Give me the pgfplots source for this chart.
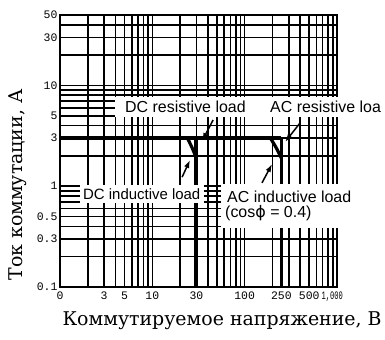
\documentclass[border=0pt]{standalone}
\usepackage{fontspec}
\usepackage{graphicx}
\setmainfont{DejaVu Serif}
\newfontfamily\tickfont{Liberation Mono}
\newfontfamily\lblfont{Liberation Sans}
\newfontfamily\djv{DejaVu Sans}
\usepackage{pgfplots}
\pgfplotsset{compat=1.18}
\usetikzlibrary{arrows.meta}
\begin{document}
\begin{tikzpicture}
\path[use as bounding box] (0,0) rectangle (385bp,340bp);
\begin{axis}[
  at={(60bp,53bp)}, anchor=south west,
  scale only axis, width=277bp, height=272bp,
  xmode=log, ymode=log,
  xmin=1, xmax=1000, ymin=0.1, ymax=50,
  axis line style={line width=1.8bp},
  xtick={1,10,100,1000},
  xticklabels={0,10,100,{\makebox[0pt][r]{\scalebox{0.62}[1]{1,000}\hspace*{-6bp}}}},
  extra x ticks={3,5,30,250,500},
  extra x tick labels={3,5,30,250,500},
  extra x tick style={grid=none},
  minor xtick={2,3,4,5,6,7,8,9,20,30,40,50,60,70,80,90,200,300,400,500,600,700,800,900},
  ytick={0.1,1,10},
  yticklabels={0.1,1,10},
  extra y ticks={0.3,0.5,3,5,30,50},
  extra y tick labels={0.3,0.5,3,5,30,50},
  extra y tick style={grid=none},
  minor ytick={0.2,0.3,0.4,0.5,0.6,0.7,0.8,0.9,2,3,4,5,6,7,8,9,20,30,40},
  grid=both,
  major grid style={black,line width=1.6bp},
  minor grid style={black,line width=1.6bp},
  major tick length=0pt, minor tick length=0pt,
  tick label style={font=\tickfont\fontsize{11.5}{11.5}\selectfont},
  xticklabel style={yshift=-1bp},
  yticklabel style={xshift=1bp},
  xlabel={Коммутируемое напряжение, В},
  xlabel style={at={(axis description cs:0.585,-0.125)}, anchor=center, font=\fontsize{19}{19}\selectfont},
  ylabel={Ток коммутации, А},
  ylabel style={at={(axis description cs:-0.152,0.375)}, anchor=center, font=\fontsize{19}{19}\selectfont},
]
% resistive load limits
\addplot[black, line width=3.8bp] coordinates {(1,3) (250,3)};
\addplot[black, line width=3.8bp] coordinates {(30,3) (30,0.1)};
\addplot[black, line width=3.8bp] coordinates {(250,3) (250,0.1)};
% inductive load limits
\addplot[black, line width=3.2bp, smooth] coordinates {(24,3) (27,2.4) (30,1.9)};
\addplot[black, line width=3.2bp, smooth] coordinates {(190,3) (220,2.4) (250,1.9)};
% leader arrows
\addplot[black, line width=1.5bp, -{Latex[length=8bp,width=5.5bp]}] coordinates {(21,1.23) (25.6,1.82)};
\addplot[black, line width=1.5bp, -{Latex[length=8bp,width=5.5bp]}] coordinates {(45.5,4.54) (34.6,2.81)};
\addplot[black, line width=1.5bp, -{Latex[length=8bp,width=5.5bp]}] coordinates {(154,1.08) (198,1.66)};
\addplot[black, line width=1.5bp, -{Latex[length=8bp,width=5.5bp]}] coordinates {(398,4.24) (274,2.75)};
\end{axis}
% label backgrounds
\fill[white] (115bp,223bp) rectangle (385bp,243bp);
\fill[white] (80bp,137bp) rectangle (204bp,155bp);
\fill[white] (221bp,112bp) rectangle (360bp,156bp);
% labels
\begin{scope}[every node/.style={anchor=west, inner sep=0pt, font=\lblfont\fontsize{16}{16}\selectfont}]
\node at (125bp,233bp) {DC resistive load};
\node at (270bp,233bp) {AC resistive loa};
\node[font=\lblfont\fontsize{15}{15}\selectfont] at (83bp,146bp) {DC inductive load};
\node at (227bp,143bp) {AC inductive load};
\node at (225bp,127bp) {(cos{\djv ϕ} = 0.4)};
\end{scope}
\end{tikzpicture}
\end{document}
